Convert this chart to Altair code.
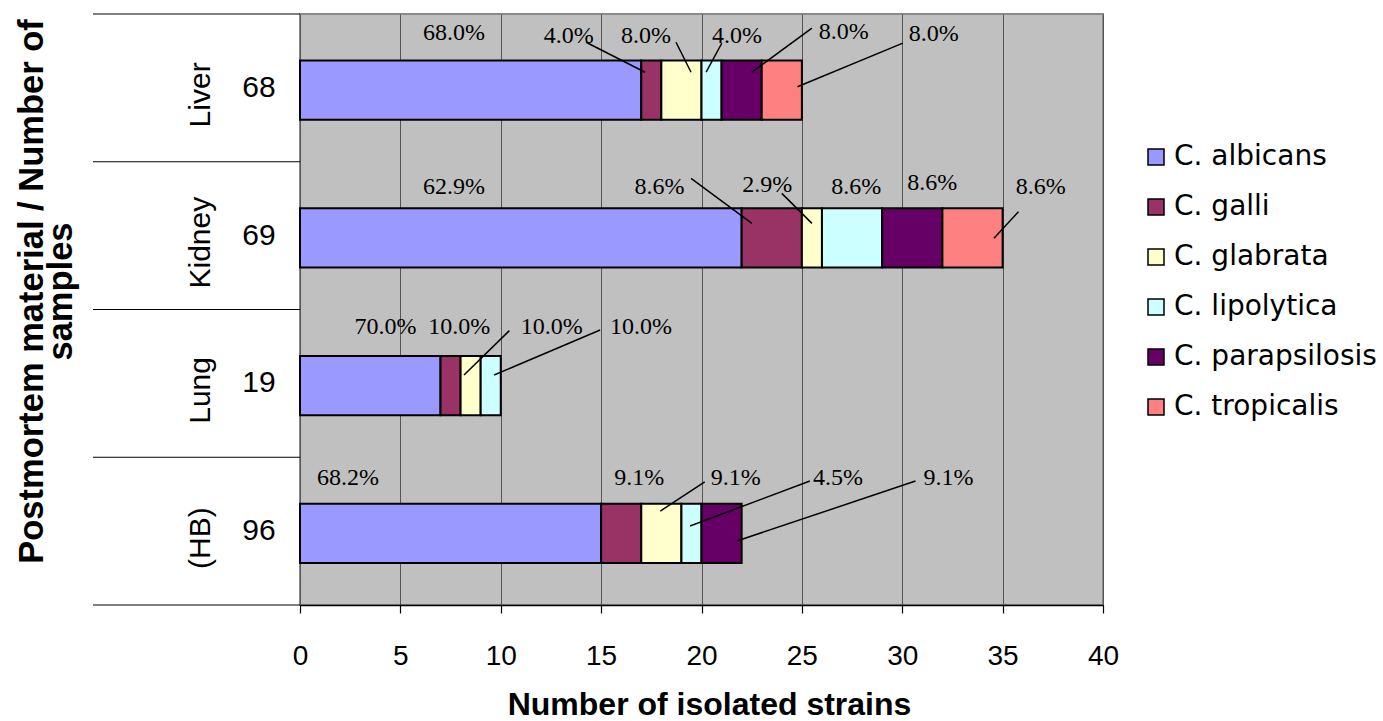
import altair as alt
import pandas as pd

# Organs sampled post mortem and the number of samples taken from each
categories = ["Liver", "Kidney", "Lung", "(HB)"]
sample_counts = ["68", "69", "19", "96"]

# Candida species and their fill colours
species = ["C. albicans", "C. galli", "C. glabrata", "C. lipolytica",
           "C. parapsilosis", "C. tropicalis"]
species_colors = ["#9999FF", "#993366", "#FFFFCC", "#CCFFFF", "#660066", "#FF8080"]

# Isolated strains per species (same order as `species`)
liver = [17, 1, 2, 1, 2, 2]
kidney = [22, 3, 1, 3, 3, 3]
lung = [7, 1, 1, 1, 0, 0]
hb = [15, 2, 2, 1, 2, 0]
strain_counts = [liver, kidney, lung, hb]

# Percentage label placement: label centre (x, y offset from band centre)
# and optional leader line (x1, dy1, x2, dy2), in axis units
label_layout = {
    "Liver": [
        (7.67, 0.371, None),
        (13.39, 0.353, (14.25, 0.309, 17.19, 0.106)),
        (17.24, 0.353, (18.73, 0.309, 19.48, 0.106)),
        (21.77, 0.353, (21.01, 0.302, 20.23, 0.106)),
        (27.09, 0.376, (25.50, 0.405, 22.51, 0.106)),
        (31.57, 0.365, (30.03, 0.303, 24.78, 0.008)),
    ],
    "Kidney": [
        (7.67, 0.331, None),
        (17.91, 0.331, (19.48, 0.388, 22.51, 0.083)),
        (23.27, 0.342, (24.00, 0.286, 25.50, 0.083)),
        (27.71, 0.331, None),
        (31.50, 0.354, None),
        (36.90, 0.329, (35.79, 0.162, 34.57, -0.018)),
    ],
    "Lung": [
        (4.26, 0.384, None),
        (7.93, 0.384, None),
        (12.54, 0.384, (10.43, 0.357, 8.17, 0.057)),
        (16.99, 0.384, (14.95, 0.361, 9.67, 0.057)),
    ],
    "(HB)": [
        (2.39, 0.359, None),
        (16.90, 0.359, None),
        (21.70, 0.359, (20.16, 0.334, 17.95, 0.136)),
        (26.80, 0.359, (25.40, 0.339, 19.43, 0.035)),
        (32.30, 0.359, (30.66, 0.339, 21.76, -0.067)),
    ],
}

BAR_HALF = 0.2     # half bar thickness, in band units
BAR_DROP = 0.015   # bars sit slightly below the band centre
n_cat = len(categories)

bar_rows, label_rows, line_rows = [], [], []
for i, (cat, counts) in enumerate(zip(categories, strain_counts)):
    centre = n_cat - 0.5 - i
    total = sum(counts)
    start = 0
    placed = [k for k, v in enumerate(counts) if v > 0]
    for j, k in enumerate(placed):
        v = counts[k]
        bar_rows.append({
            "category": cat, "species": species[k], "order": k,
            "x0": start, "x1": start + v,
            "y0": centre - BAR_DROP - BAR_HALF,
            "y1": centre - BAR_DROP + BAR_HALF,
        })
        tx, tdy, line = label_layout[cat][j]
        label_rows.append({
            "x": tx, "y": centre + tdy,
            "text": f"{100 * v / total:.1f}%",
        })
        if line is not None:
            lx1, ldy1, lx2, ldy2 = line
            line_rows.append({"x1": lx1, "y1": centre + ldy1,
                              "x2": lx2, "y2": centre + ldy2})
        start += v

bars_df = pd.DataFrame(bar_rows)
labels_df = pd.DataFrame(label_rows)
lines_df = pd.DataFrame(line_rows)
cat_df = pd.DataFrame({
    "category": categories,
    "samples": sample_counts,
    "centre": [n_cat - 0.5 - i for i in range(n_cat)],
})
sep_df = pd.DataFrame({"b": list(range(n_cat + 1))})

x_scale = alt.Scale(domain=[0, 40], nice=False, zero=True)
y_scale = alt.Scale(domain=[0, n_cat], nice=False, zero=True)

x_axis = alt.Axis(
    values=list(range(0, 41, 5)), grid=True, gridColor="#555555", gridWidth=1,
    domainColor="black", domainWidth=1.5, tickColor="black", tickSize=8,
    tickWidth=1.2, labelFont="Liberation Sans", labelFontSize=28,
    labelColor="black", labelPadding=29, labelFlush=False,
    title="Number of isolated strains", titleFont="Liberation Sans",
    titleFontSize=32, titleFontWeight="bold", titleColor="black",
    titleX=409, titleY=109, titleAlign="center", titleBaseline="alphabetic",
)
y_axis = alt.Axis(
    domain=False, ticks=False, labels=False, grid=False,
    title=["Postmortem material / Number of", "samples"],
    titleFont="Liberation Sans", titleFontSize=34.5, titleFontWeight="bold",
    titleColor="black", titleAngle=270, titleAlign="center",
    titleBaseline="alphabetic", titleLineHeight=29, titleX=-258, titleY=277,
)

bars = alt.Chart(bars_df).mark_bar(stroke="black", strokeWidth=2).encode(
    x=alt.X("x0:Q", scale=x_scale, axis=x_axis),
    x2="x1:Q",
    y=alt.Y("y0:Q", scale=y_scale, axis=y_axis),
    y2="y1:Q",
    color=alt.Color(
        "species:N",
        scale=alt.Scale(domain=species, range=species_colors),
        sort=species,
        legend=alt.Legend(
            orient="none", legendX=842, legendY=129, title=None, padding=0,
            symbolType="square", symbolSize=256, symbolStrokeColor="black",
            symbolStrokeWidth=1.5, symbolOpacity=1,
            labelFont="DejaVu Sans", labelFontSize=28, labelColor="black",
            labelOffset=4, labelLimit=0, rowPadding=22,
        ),
    ),
)

leaders = alt.Chart(lines_df).mark_rule(color="black", strokeWidth=1.5).encode(
    x=alt.X("x1:Q", scale=x_scale, axis=x_axis),
    x2="x2:Q",
    y=alt.Y("y1:Q", scale=y_scale, axis=y_axis),
    y2="y2:Q",
)

pct = alt.Chart(labels_df).mark_text(
    font="Liberation Serif", fontSize=24, color="black",
    align="center", baseline="middle",
).encode(
    x=alt.X("x:Q", scale=x_scale, axis=x_axis),
    y=alt.Y("y:Q", scale=y_scale, axis=y_axis),
    text="text:N",
)

separators = alt.Chart(sep_df).mark_rule(color="black", strokeWidth=1.2).encode(
    y=alt.Y("b:Q", scale=y_scale, axis=y_axis),
    x=alt.value(-207),
    x2=alt.value(0),
)

organ_names = alt.Chart(cat_df).mark_text(
    font="Liberation Sans", fontSize=30, color="black", angle=270,
    align="center", baseline="middle", dx=-7,
).encode(
    y=alt.Y("centre:Q", scale=y_scale, axis=y_axis),
    x=alt.value(-99),
    text="category:N",
)

sample_labels = alt.Chart(cat_df).mark_text(
    font="Liberation Sans", fontSize=30, color="black",
    align="center", baseline="middle",
).encode(
    y=alt.Y("centre:Q", scale=y_scale, axis=y_axis),
    x=alt.value(-41),
    text="samples:N",
)

chart = alt.layer(
    bars, leaders, pct, separators, organ_names, sample_labels
).properties(
    width=803,
    height=591,
    autosize=alt.AutoSizeParams(type="none"),
    padding={"left": 300, "top": 14, "right": 280, "bottom": 116},
    background="white",
).configure_view(
    fill="#C0C0C0", stroke="#8a8a8a", strokeWidth=2,
)

chart.save("out.html", embed_options={"renderer": "svg", "actions": False})
